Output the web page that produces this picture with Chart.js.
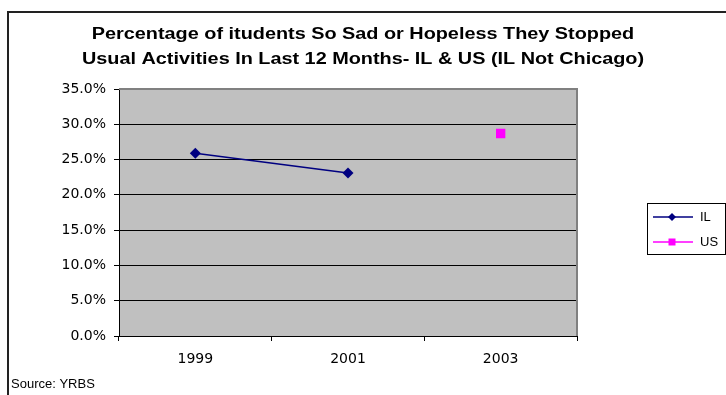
<!DOCTYPE html>
<html>
<head>
<meta charset="utf-8">
<script src="https://cdn.jsdelivr.net/npm/chart.js@4/dist/chart.umd.min.js"></script>
<style>
html,body{margin:0;padding:0;background:#fff;}
#wrap{width:726px;height:395px;position:relative;}
</style>
</head>
<body>
<div id="wrap"><canvas id="c" width="726" height="395"></canvas></div>
<script>
const titleLines = ["Percentage of itudents So Sad or Hopeless They Stopped", "Usual Activities In Last 12 Months- IL & US (IL Not Chicago)"];
const sourceText = "Source: YRBS";
const categories = ["1999", "2001", "2003"];
const ilValues = [0.259, 0.231, null];
const usValues = [null, null, 0.287];
const yTicks = [0, 0.05, 0.10, 0.15, 0.20, 0.25, 0.30, 0.35];

const FONT = 'Arial, "Liberation Sans", sans-serif';
const TICKFONT = '"DejaVu Sans", Arial, sans-serif';

const decor = {
  id: 'decor',
  beforeDraw(chart) {
    const ctx = chart.ctx, a = chart.chartArea;
    ctx.save();
    ctx.fillStyle = '#fff';
    ctx.fillRect(0, 0, chart.width, chart.height);
    // outer frame
    ctx.strokeStyle = '#222';
    ctx.lineWidth = 2;
    ctx.beginPath();
    ctx.moveTo(8, chart.height);
    ctx.lineTo(8, 12);
    ctx.lineTo(chart.width, 12);
    ctx.stroke();
    // plot bg
    ctx.fillStyle = '#C0C0C0';
    ctx.fillRect(a.left, a.top, a.right - a.left, a.bottom - a.top);
    ctx.restore();
  },
  afterDraw(chart) {
    const ctx = chart.ctx, a = chart.chartArea;
    ctx.save();
    // plot border top/right gray
    ctx.strokeStyle = '#808080';
    ctx.lineWidth = 2;
    ctx.beginPath();
    ctx.moveTo(a.left, a.top);
    ctx.lineTo(a.right, a.top);
    ctx.lineTo(a.right, a.bottom);
    ctx.stroke();
    // title (horizontally stretched like the original)
    ctx.fillStyle = '#000';
    ctx.font = 'bold 16px ' + FONT;
    ctx.textAlign = 'center';
    ctx.textBaseline = 'middle';
    ctx.save();
    ctx.translate(363, 0);
    ctx.scale(1.24, 1);
    ctx.fillText(titleLines[0], 0, 35);
    ctx.fillText(titleLines[1], 0, 60);
    ctx.restore();
    // source
    ctx.font = '13px ' + FONT;
    ctx.textAlign = 'left';
    ctx.fillText(sourceText, 11, 384);
    // legend
    const lx = 647, ly = 203, lw = 79, lh = 52;
    ctx.fillStyle = '#fff';
    ctx.fillRect(lx, ly, lw, lh);
    ctx.strokeStyle = '#000';
    ctx.lineWidth = 1;
    ctx.strokeRect(lx + 0.5, ly + 0.5, lw - 1, lh - 1);
    const rows = [217, 242];
    chart.data.datasets.forEach((ds, i) => {
      const y = rows[i];
      ctx.strokeStyle = ds.borderColor;
      ctx.lineWidth = 1.5;
      ctx.beginPath();
      ctx.moveTo(653, y);
      ctx.lineTo(693, y);
      ctx.stroke();
      ctx.fillStyle = ds.pointBackgroundColor;
      ctx.beginPath();
      if (ds.pointStyle === 'rectRot') {
        const r = 4;
        ctx.moveTo(672, y - r); ctx.lineTo(672 + r, y); ctx.lineTo(672, y + r); ctx.lineTo(672 - r, y);
      } else {
        ctx.rect(668.5, y - 3.5, 7, 7);
      }
      ctx.closePath();
      ctx.fill();
      ctx.fillStyle = '#000';
      ctx.font = '13px ' + FONT;
      ctx.textAlign = 'left';
      ctx.textBaseline = 'middle';
      ctx.fillText(ds.label, 700, y + 0.5);
    });
    ctx.restore();
  }
};

new Chart(document.getElementById('c'), {
  type: 'line',
  data: {
    labels: categories,
    datasets: [
      {
        label: 'IL', data: ilValues,
        borderColor: '#000080', backgroundColor: '#000080',
        pointBackgroundColor: '#000080', pointBorderColor: '#000080',
        pointStyle: 'rectRot', pointRadius: 5.5, pointBorderWidth: 0,
        borderWidth: 1.5, spanGaps: false, tension: 0
      },
      {
        label: 'US', data: usValues,
        borderColor: '#FF00FF', backgroundColor: '#FF00FF',
        pointBackgroundColor: '#FF00FF', pointBorderColor: '#FF00FF',
        pointStyle: 'rect', pointRadius: 6.6, pointBorderWidth: 0,
        borderWidth: 1.5, tension: 0
      }
    ]
  },
  options: {
    responsive: false,
    animation: false,
    devicePixelRatio: 1,
    layout: { padding: { left: 0, top: 89, right: 149, bottom: 0 } },
    plugins: { legend: { display: false }, title: { display: false }, tooltip: { enabled: false } },
    scales: {
      x: {
        type: 'category',
        offset: true,
        grid: { offset: true, drawOnChartArea: false, drawTicks: true, tickLength: 5, color: '#000', lineWidth: 1 },
        border: { display: true, color: '#000', width: 1 },
        ticks: { color: '#000', font: { family: TICKFONT, size: 14 }, padding: 10, maxRotation: 0 },
        afterFit(s) { s.height = 59; }
      },
      y: {
        min: 0, max: 0.35,
        afterBuildTicks(s) { s.ticks = yTicks.map(v => ({ value: v })); },
        grid: {
          color: (c) => (c.tick && Math.abs(c.tick.value - 0.35) < 1e-9) ? '#808080' : '#000',
          tickColor: '#000', tickLength: 5, lineWidth: 1
        },
        border: { display: true, color: '#000', width: 1 },
        ticks: {
          color: '#000', font: { family: TICKFONT, size: 14 }, padding: 8,
          callback: (v) => (v * 100).toFixed(1) + '%'
        },
        afterFit(s) { s.width = 119; }
      }
    }
  },
  plugins: [decor]
});
</script>
</body>
</html>
